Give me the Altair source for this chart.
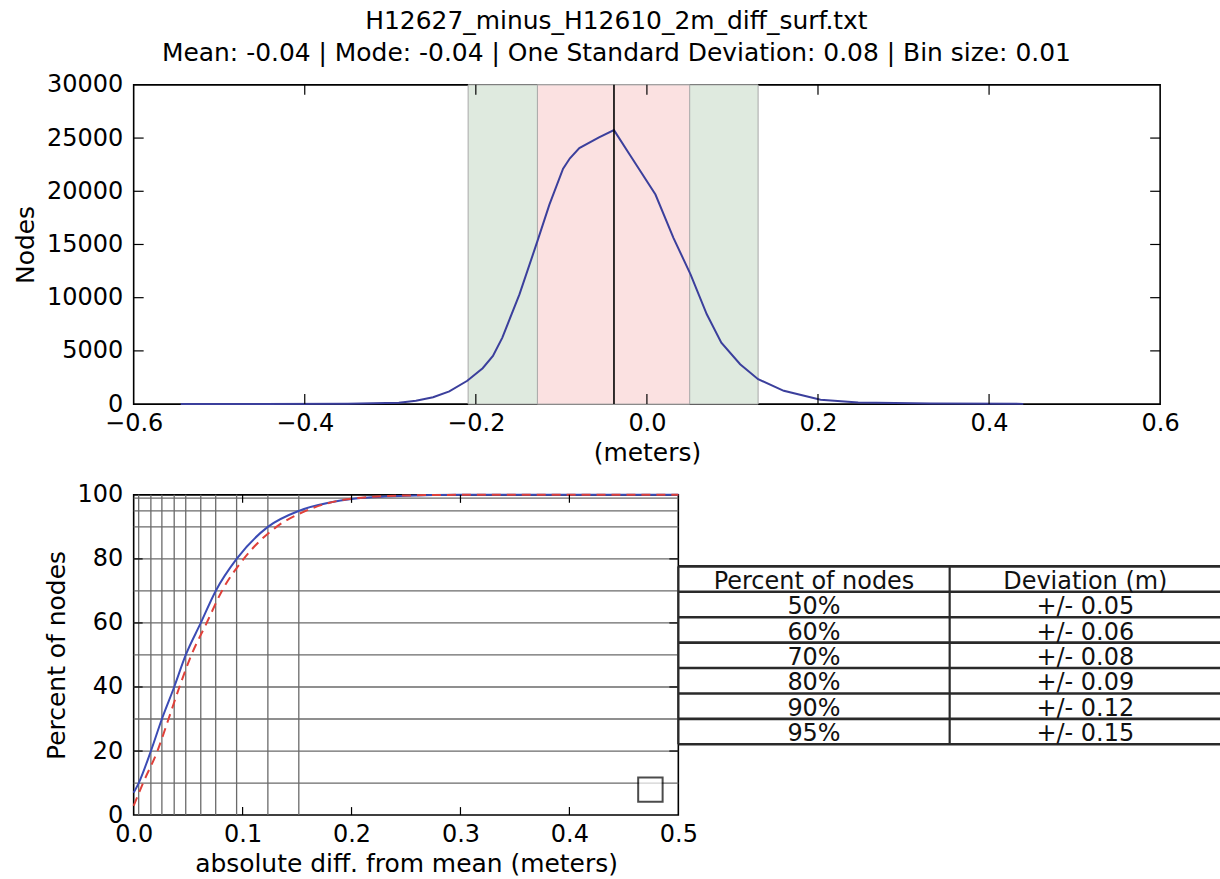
import altair as alt
import pandas as pd

# ---------------- data ----------------
title_lines = ["H12627_minus_H12610_2m_diff_surf.txt",
               "Mean: -0.04 | Mode: -0.04 | One Standard Deviation: 0.08 | Bin size: 0.01"]

# histogram line (meters, nodes)
hist_x = [-0.545, -0.45, -0.35, -0.29, -0.27, -0.25, -0.231, -0.21, -0.192, -0.18,
          -0.169, -0.149, -0.128, -0.114, -0.098, -0.09, -0.079, -0.056, -0.0385,
          -0.02, 0.01, 0.031, 0.051, 0.070, 0.087, 0.109, 0.130, 0.160, 0.203,
          0.247, 0.332, 0.44]
hist_y = [0, 5, 30, 125, 310, 650, 1190, 2190, 3375, 4530,
          6250, 10310, 15310, 18750, 22125, 23100, 24060, 25060, 25750,
          23440, 19690, 15625, 12190, 8440, 5780, 3750, 2340, 1250, 400,
          150, 60, 20]

mean_val = -0.0385
band_1sd = [-0.128, 0.050]
band_2sd = [-0.209, 0.130]

top_xticks = [-0.4, -0.2, 0.0, 0.2, 0.4]
top_yticks = [5000, 10000, 15000, 20000, 25000]

# cumulative percent curves
cdf_x = [0.0, 0.0046, 0.0158, 0.0259, 0.0372, 0.0478, 0.0616, 0.0753, 0.0945,
         0.1232, 0.1516, 0.18, 0.20, 0.25, 0.30, 0.50]
cdf_y = [7.0, 10, 20, 30, 40, 50, 60, 70, 80, 90, 95, 97.6, 98.7, 99.7, 100, 100]

ref_x = [0.0, 0.0086, 0.0218, 0.032, 0.042, 0.053, 0.067, 0.081, 0.101, 0.131,
         0.158, 0.20, 0.25, 0.30, 0.50]
ref_y = [2.9, 10, 20, 30, 40, 50, 60, 70, 80, 90, 95, 98.8, 99.8, 100, 100]

grid_dev = [0.0046, 0.0158, 0.0259, 0.0372, 0.0478, 0.0616, 0.0753, 0.0945, 0.1232, 0.1516]
grid_pct = [10, 20, 30, 40, 50, 60, 70, 80, 90, 95, 99]

bot_xticks = [0.1, 0.2, 0.3, 0.4]
bot_yticks = [20, 40, 60, 80]

table_header = ["Percent of nodes", "Deviation (m)"]
table_pct = ["50%", "60%", "70%", "80%", "90%", "95%"]
table_dev = ["+/- 0.05", "+/- 0.06", "+/- 0.08", "+/- 0.09", "+/- 0.12", "+/- 0.15"]

FONT = "DejaVu Sans"
TW, TH = 1029, 320
BW, BH = 546, 321
TBW = 543

# ---------------- top chart ----------------
hist_df = pd.DataFrame({"x": hist_x, "y": hist_y})
xs = alt.Scale(domain=[-0.6, 0.6], nice=False)
ys = alt.Scale(domain=[0, 30000], nice=False)

bands = pd.DataFrame({"x0": [band_2sd[0], band_1sd[0]], "x1": [band_2sd[1], band_1sd[1]],
                      "c": ["#dfeadf", "#fbe1e1"], "o": [0, 1]})
band_layer = alt.Chart(bands).mark_rect(stroke="#a8a8a8", strokeWidth=1).encode(
    x=alt.X("x0:Q", scale=xs), x2="x1:Q",
    color=alt.Color("c:N", scale=None), order="o:Q")

curve = alt.Chart(hist_df).mark_line(color="#3b3f9c", strokeWidth=2).encode(
    x=alt.X("x:Q", scale=xs,
            axis=alt.Axis(values=[-0.6, -0.4, -0.2, 0.0, 0.2, 0.4, 0.6], format=".1f",
                          title="(meters)", ticks=False, labelPadding=7, titlePadding=6,
                          domain=False, grid=False)),
    y=alt.Y("y:Q", scale=ys,
            axis=alt.Axis(values=[0, 5000, 10000, 15000, 20000, 25000, 30000], format="d",
                          title="Nodes", ticks=False, labelPadding=11, titlePadding=8,
                          domain=False, grid=False)))

mean_rule = alt.Chart(pd.DataFrame({"m": [mean_val]})).mark_rule(
    color="black", strokeWidth=1.6).encode(x=alt.X("m:Q", scale=xs))

txdf = pd.DataFrame({"t": top_xticks})
tydf = pd.DataFrame({"t": top_yticks})
tick_b = alt.Chart(txdf).mark_rule(color="black", strokeWidth=1.2).encode(
    x=alt.X("t:Q", scale=xs), y=alt.value(TH), y2=alt.value(TH - 10))
tick_t = alt.Chart(txdf).mark_rule(color="black", strokeWidth=1.2).encode(
    x=alt.X("t:Q", scale=xs), y=alt.value(0), y2=alt.value(10))
tick_l = alt.Chart(tydf).mark_rule(color="black", strokeWidth=1.2).encode(
    y=alt.Y("t:Q", scale=ys), x=alt.value(0), x2=alt.value(10))
tick_r = alt.Chart(tydf).mark_rule(color="black", strokeWidth=1.2).encode(
    y=alt.Y("t:Q", scale=ys), x=alt.value(TW - 10), x2=alt.value(TW))

top = alt.layer(band_layer, curve, mean_rule, tick_b, tick_t, tick_l, tick_r).properties(
    width=TW, height=TH)

# ---------------- bottom chart ----------------
bxs = alt.Scale(domain=[0, 0.5], nice=False)
bys = alt.Scale(domain=[0, 100], nice=False)

gv = alt.Chart(pd.DataFrame({"g": grid_dev})).mark_rule(color="#6a6a6a", strokeWidth=1.3).encode(
    x=alt.X("g:Q", scale=bxs))
gh = alt.Chart(pd.DataFrame({"g": grid_pct})).mark_rule(color="#6a6a6a", strokeWidth=1.3).encode(
    y=alt.Y("g:Q", scale=bys))

cdf_df = pd.DataFrame({"x": cdf_x, "y": cdf_y})
ref_df = pd.DataFrame({"x": ref_x, "y": ref_y})

blue = alt.Chart(cdf_df).mark_line(color="#3b4bb5", strokeWidth=2, interpolate="monotone").encode(
    x=alt.X("x:Q", scale=bxs,
            axis=alt.Axis(values=[0, 0.1, 0.2, 0.3, 0.4, 0.5], format=".1f",
                          title="absolute diff. from mean (meters)", ticks=False,
                          labelPadding=7, titlePadding=6, domain=False, grid=False)),
    y=alt.Y("y:Q", scale=bys,
            axis=alt.Axis(values=[0, 20, 40, 60, 80, 100], format="d",
                          title="Percent of nodes", ticks=False, labelPadding=11,
                          titlePadding=8, domain=False, grid=False)))
red = alt.Chart(ref_df).mark_line(color="#e0403a", strokeWidth=2, strokeDash=[9, 6],
                                  interpolate="monotone").encode(
    x=alt.X("x:Q", scale=bxs), y=alt.Y("y:Q", scale=bys))

bxdf = pd.DataFrame({"t": bot_xticks})
bydf = pd.DataFrame({"t": bot_yticks})
btick_b = alt.Chart(bxdf).mark_rule(color="black", strokeWidth=1.2).encode(
    x=alt.X("t:Q", scale=bxs), y=alt.value(BH), y2=alt.value(BH - 8))
btick_t = alt.Chart(bxdf).mark_rule(color="black", strokeWidth=1.2).encode(
    x=alt.X("t:Q", scale=bxs), y=alt.value(0), y2=alt.value(8))
btick_l = alt.Chart(bydf).mark_rule(color="black", strokeWidth=1.2).encode(
    y=alt.Y("t:Q", scale=bys), x=alt.value(0), x2=alt.value(9))
btick_r = alt.Chart(bydf).mark_rule(color="black", strokeWidth=1.2).encode(
    y=alt.Y("t:Q", scale=bys), x=alt.value(BW - 9), x2=alt.value(BW))

legend_box = alt.Chart(pd.DataFrame({"k": [0]})).mark_square(
    filled=True, fill="white", stroke="black", strokeWidth=2, size=600).encode(
    x=alt.value(518), y=alt.value(295.5))

bottom = alt.layer(gv, gh, blue, red, btick_b, btick_t, btick_l, btick_r, legend_box).properties(
    width=BW, height=BH)

# ---------------- table ----------------
ncol_w = 272.0
tx = alt.Scale(domain=[0, TBW / ncol_w], nice=False, zero=False)
ty = alt.Scale(domain=[-2.815, 9.788], nice=False, zero=False, reverse=True)

hl = pd.DataFrame({"k": list(range(8)), "a": [0] * 8, "b": [TBW / ncol_w] * 8})
vl = pd.DataFrame({"c": [0, 1], "k0": [0, 0], "k1": [7, 7]})
rows = []
for i, h in enumerate(table_header):
    rows.append({"col": i + 0.5, "row": 1, "label": h})
for j, (p, d) in enumerate(zip(table_pct, table_dev)):
    rows.append({"col": 0.5, "row": j + 2, "label": p})
    rows.append({"col": 1.5, "row": j + 2, "label": d})
txt_df = pd.DataFrame(rows)

h_rules = alt.Chart(hl).mark_rule(color="#2a2a2a", strokeWidth=2.6, clip=True).encode(
    x=alt.X("a:Q", scale=tx, axis=None), x2="b:Q", y=alt.Y("k:Q", scale=ty, axis=None))
v_rules = alt.Chart(vl).mark_rule(color="#2a2a2a", strokeWidth=2.2).encode(
    x=alt.X("c:Q", scale=tx, axis=None), y=alt.Y("k0:Q", scale=ty, axis=None), y2="k1:Q")
t_text = alt.Chart(txt_df).mark_text(font=FONT, fontSize=24, color="#111", baseline="alphabetic",
                                     align="center", dy=-3).encode(
    x=alt.X("col:Q", scale=tx, axis=None), y=alt.Y("row:Q", scale=ty, axis=None), text="label:N")

table = alt.layer(h_rules, v_rules, t_text).properties(
    width=TBW, height=BH, view=alt.ViewBackground(strokeWidth=0, stroke="transparent"))

# ---------------- assemble ----------------
lower = alt.hconcat(bottom, table, spacing=0, bounds="flush")
chart = alt.vconcat(top, lower, spacing=91, bounds="flush").properties(
    title=alt.TitleParams(text=title_lines, font=FONT, fontSize=25, fontWeight="normal",
                          color="black", lineHeight=32, anchor="middle", offset=6),
    padding={"left": 12, "top": 8, "right": 0, "bottom": 0},
    background="white",
).configure_view(stroke="black", strokeWidth=1.6).configure_axis(
    labelFont=FONT, labelFontSize=24, labelColor="black", labelFlush=False,
    titleFont=FONT, titleFontSize=25, titleColor="black", titleFontWeight="normal",
)

chart.save("out.html", embed_options={"renderer": "svg", "actions": False})
